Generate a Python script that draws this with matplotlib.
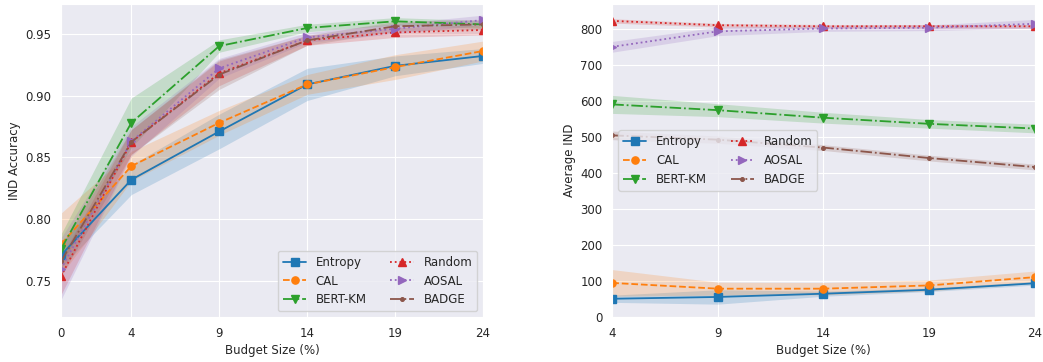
import numpy as np
import matplotlib
matplotlib.use('Agg')
import matplotlib.pyplot as plt
import seaborn as sns

sns.set_style('darkgrid')
plt.rcParams['font.size'] = 8.5
plt.rcParams['lines.linewidth'] = 1.3
plt.rcParams['lines.markersize'] = 5.2
plt.rcParams['axes.labelpad'] = 3

methods = ['Entropy', 'CAL', 'BERT-KM', 'Random', 'AOSAL', 'BADGE']
styles = {'Entropy': ('-', 's'), 'CAL': ('--', 'o'), 'BERT-KM': ('-.', 'v'),
          'Random': (':', '^'), 'AOSAL': (':', '>'), 'BADGE': ('-.', '.')}
colors = ['#1f77b4', '#ff7f0e', '#2ca02c', '#d62728', '#9467bd', '#8c564b']

# left: IND accuracy
budget_acc = [0, 4, 9, 14, 19, 24]
acc_entropy = [0.771, 0.832, 0.871, 0.909, 0.924, 0.932]
acc_cal = [0.780, 0.843, 0.878, 0.909, 0.923, 0.936]
acc_bertkm = [0.776, 0.878, 0.940, 0.9546, 0.960, 0.9575]
acc_random = [0.754, 0.8625, 0.918, 0.9446, 0.951, 0.953]
acc_aosal = [0.760, 0.863, 0.922, 0.947, 0.954, 0.961]
acc_badge = [0.766, 0.8625, 0.917, 0.9446, 0.956, 0.9575]
acc_err = {
    'Entropy': [0.010, 0.012, 0.014, 0.013, 0.008, 0.006],
    'CAL': [0.025, 0.012, 0.010, 0.008, 0.010, 0.008],
    'BERT-KM': [0.012, 0.020, 0.005, 0.003, 0.003, 0.003],
    'Random': [0.015, 0.010, 0.010, 0.004, 0.004, 0.004],
    'AOSAL': [0.025, 0.012, 0.008, 0.004, 0.004, 0.004],
    'BADGE': [0.012, 0.010, 0.012, 0.004, 0.004, 0.004],
}

# right: average IND
budget_ind = [4, 9, 14, 19, 24]
ind_entropy = [51, 56, 65, 76, 94]
ind_cal = [95, 79, 79, 88, 111]
ind_bertkm = [591, 575, 554, 537, 524]
ind_random = [823, 811, 808, 808, 808]
ind_aosal = [751, 794, 802, 804, 815]
ind_badge = [505, 493, 471, 442, 417]
ind_err = {
    'Entropy': [10, 20, 7, 5, 5],
    'CAL': [37, 18, 17, 15, 17],
    'BERT-KM': [25, 18, 15, 12, 12],
    'Random': [6, 5, 5, 5, 5],
    'AOSAL': [15, 12, 8, 8, 12],
    'BADGE': [12, 10, 8, 8, 8],
}

acc_data = [acc_entropy, acc_cal, acc_bertkm, acc_random, acc_aosal, acc_badge]
ind_data = [ind_entropy, ind_cal, ind_bertkm, ind_random, ind_aosal, ind_badge]

fig = plt.figure(figsize=(10.43, 3.62), dpi=100)
ax1 = fig.add_axes([0.0585, 0.124, 0.4045, 0.865])
ax2 = fig.add_axes([0.587, 0.124, 0.405, 0.865])


def draw(ax, x, data, errs):
    x = np.array(x)
    for name, y, c in zip(methods, data, colors):
        y = np.array(y)
        e = np.array(errs[name])
        ls, mk = styles[name]
        ax.fill_between(x, y - e, y + e, color=c, alpha=0.2, linewidth=0)
        ax.plot(x, y, linestyle=ls, marker=mk, color=c, label=name)


draw(ax1, budget_acc, acc_data, acc_err)
ax1.set_xlim(0, 24)
ax1.set_ylim(0.721, 0.974)
ax1.set_xticks(budget_acc)
ax1.set_yticks([0.75, 0.80, 0.85, 0.90, 0.95])
ax1.set_xlabel('Budget Size (%)')
ax1.set_ylabel('IND Accuracy')
ax1.legend(loc='lower right', ncol=2)

draw(ax2, budget_ind, ind_data, ind_err)
ax2.set_xlim(4, 24)
ax2.set_ylim(0, 870)
ax2.set_xticks(budget_ind)
ax2.set_xlabel('Budget Size (%)')
ax2.set_ylabel('Average IND')
ax2.legend(loc='center left', ncol=2)

fig.savefig('out.png', dpi=100)
